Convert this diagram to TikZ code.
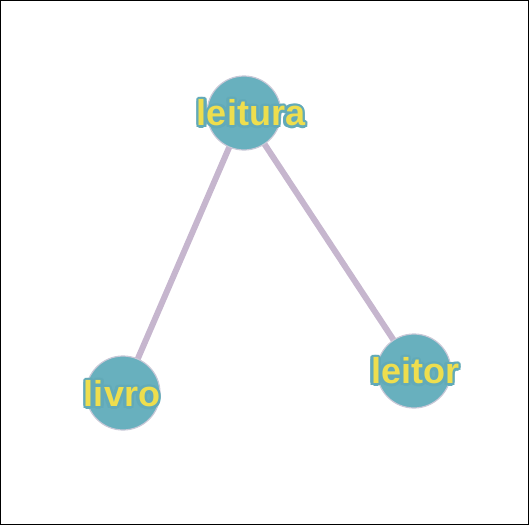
\documentclass[tikz,border=0pt]{standalone}
\usepackage{fontspec}
\setmainfont{Liberation Sans}
\definecolor{nodefill}{RGB}{104,176,190}
\definecolor{nodeedge}{RGB}{200,200,215}
\definecolor{halo}{RGB}{98,170,184}
\definecolor{labelyellow}{RGB}{238,222,78}
\definecolor{linkcol}{RGB}{198,182,206}
% label with a teal halo behind yellow glyphs
\newcommand{\halotext}[3]{% name, position, text
  \foreach \a in {0,30,...,330}{
    \node[labelfont,text=halo] at ([shift={(\a:2.4pt)}]#2) {#3};
  }
  \node[labelfont,text=labelyellow] (#1) at (#2) {#3};
}
\begin{document}
\begin{tikzpicture}[x=1pt,y=-1pt,
  concept/.style={circle,fill=nodefill,draw=nodeedge,line width=1.2pt,minimum size=74pt,inner sep=0pt},
  link/.style={draw=linkcol,line width=6pt},
  labelfont/.style={font=\bfseries\fontsize{36}{36}\selectfont,inner sep=0pt}]
  \draw[black,line width=1pt] (0.5,0.5) rectangle (528.5,524.5);
  \useasboundingbox (0,0) rectangle (529,525);
  \coordinate (pLeitura) at (244,113);
  \coordinate (pLivro) at (123,393);
  \coordinate (pLeitor) at (414,371);
  \draw[link] (pLeitura) -- (pLivro);
  \draw[link] (pLeitura) -- (pLeitor);
  \node[concept] (cLeitura) at (pLeitura) {};
  \node[concept] (cLivro) at (pLivro) {};
  \node[concept] (cLeitor) at (pLeitor) {};
  \coordinate (tLeitura) at (251,113);
  \coordinate (tLivro) at (122,394);
  \coordinate (tLeitor) at (415,371);
  \halotext{lLeitura}{tLeitura}{leitura}
  \halotext{lLivro}{tLivro}{livro}
  \halotext{lLeitor}{tLeitor}{leitor}
\end{tikzpicture}
\end{document}
